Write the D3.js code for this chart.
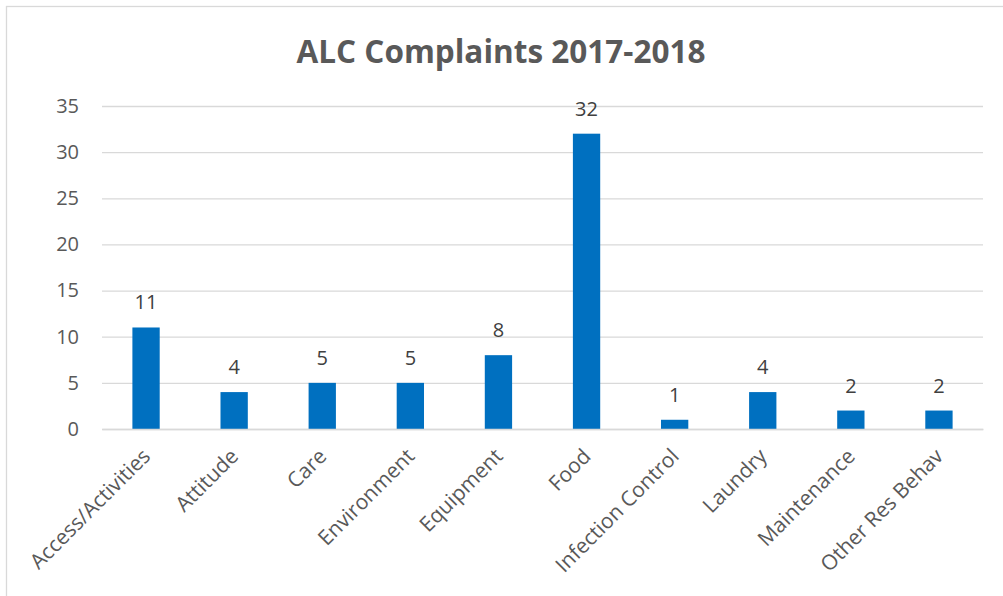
<!DOCTYPE html>
<html><head><meta charset="utf-8">
<script src="https://cdn.jsdelivr.net/npm/d3@7"></script>
<style>
html,body{margin:0;padding:0;background:#fff;}
svg{display:block;}
text{font-family:"Open Sans","Noto Sans",sans-serif;}
</style></head>
<body>
<svg id="chart" width="1003" height="596"></svg>
<script>
const categories = ["Access/Activities","Attitude","Care","Environment","Equipment","Food","Infection Control","Laundry","Maintenance","Other Res Behav"];
const values = [11,4,5,5,8,32,1,4,2,2];
const yTicks = [0,5,10,15,20,25,30,35];
const title = "ALC Complaints 2017-2018";

const svg = d3.select("#chart");
const W = 1003, H = 596;
const m = {left:102, right:20, top:106, bottom:167};

svg.append("rect").attr("x",6.5).attr("y",6.5).attr("width",W+10).attr("height",H+10)
  .attr("fill","#fff").attr("stroke","#d9d9d9").attr("stroke-width",1.3);

const x = d3.scaleBand().domain(categories).range([m.left, 983]).paddingInner(0.69).paddingOuter(0.345);
const y = d3.scaleLinear().domain([0,35]).range([429, 106]);

// gridlines
const grid = svg.append("g").attr("transform",`translate(${m.left},0)`)
  .call(d3.axisLeft(y).tickValues(yTicks).tickSize(-(983-m.left)).tickFormat(""));
grid.select(".domain").remove();
grid.selectAll("line").attr("stroke","#d9d9d9").attr("stroke-width",1.3);

// y labels
const yAxis = svg.append("g").attr("transform",`translate(${m.left},0)`)
  .call(d3.axisLeft(y).tickValues(yTicks).tickSize(0).tickPadding(23));
yAxis.select(".domain").remove();
yAxis.selectAll("text").attr("fill","#595959").style("font-size","20px").attr("font-family",null);

// bars
svg.append("g").selectAll("rect").data(values).join("rect")
  .attr("x",(d,i)=>x(categories[i])).attr("width",x.bandwidth())
  .attr("y",d=>y(d)).attr("height",d=>y(0)-y(d)).attr("fill","#0070C0");

// data labels
svg.append("g").selectAll("text").data(values).join("text")
  .attr("x",(d,i)=>x(categories[i])+x.bandwidth()/2).attr("y",d=>y(d)-18)
  .attr("text-anchor","middle").attr("fill","#404040").style("font-size","20px").text(d=>d);

// x axis
const xAxis = svg.append("g").attr("transform","translate(0,429)")
  .call(d3.axisBottom(x).tickSize(0).tickFormat(""));
xAxis.select(".domain").attr("stroke","#d9d9d9").attr("stroke-width",1.3);

svg.append("g").selectAll("text").data(categories).join("text")
  .attr("transform",d=>`translate(${x(d)+x.bandwidth()/2-5},${447}) rotate(-45)`)
  .attr("text-anchor","end").attr("dy","0.71em").attr("fill","#595959").style("font-size","21px").text(d=>d);

// title
svg.append("text").attr("x",501).attr("y",63).attr("text-anchor","middle")
  .attr("fill","#595959").style("font-size","31.5px").style("font-weight","bold").text(title);
</script>
</body></html>
